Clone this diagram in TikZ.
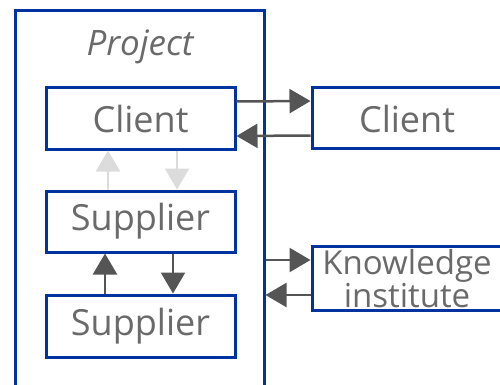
\documentclass[tikz,border=0pt]{standalone}
\usepackage{fontspec}
\setmainfont{Open Sans}
\usetikzlibrary{arrows.meta}
\definecolor{boxblue}{HTML}{0033A0}
\definecolor{txtgray}{HTML}{6A6A6A}
\definecolor{arrdark}{HTML}{555555}
\definecolor{arrlight}{HTML}{DCDCDC}
\begin{document}
\begin{tikzpicture}[x=1pt,y=-1pt,
  box/.style={draw=boxblue,line width=3pt,fill=white,inner sep=0pt,text=txtgray,
    font=\fontsize{36}{36}\selectfont},
  darr/.style={draw=arrdark,line width=2.5pt,-{Triangle[length=21pt,width=24pt,fill=arrdark]}},
  larr/.style={draw=arrlight,line width=2.5pt,-{Triangle[length=21pt,width=24pt,fill=arrlight]}}]
\path[use as bounding box] (0,0) rectangle (500,385);
\clip (0,0) rectangle (500,385);
\node[box,minimum width=249pt,minimum height=410pt] (proj) at (139.5,216) {};
\node[text=txtgray,font=\fontsize{35}{35}\selectfont\itshape] (projlbl) at (140,47) {Project};
\node[box,minimum width=189pt,minimum height=61pt] (cin) at (140.5,118.5) {Client};
\node[box,minimum width=189pt,minimum height=61pt] (sup1) at (140.5,221.5) {Supplier};
\node[box,minimum width=189pt,minimum height=62pt] (sup2) at (140.5,326) {Supplier};
\node[box,minimum width=248pt,minimum height=60pt] (cout) at (436,118) {};
\node[text=txtgray,font=\fontsize{36}{36}\selectfont] (coutlbl) at (407,118.5) {Client};
\node[box,minimum width=248pt,minimum height=64pt] (kn) at (436,278) {};
\node[text=txtgray,font=\fontsize{33}{27}\selectfont,align=center,inner sep=0pt] (knlbl) at (407,279) {Knowledge\\institute};
% client <-> client
\coordinate (c1s) at ([yshift=17pt]cin.east);
\coordinate (c1e) at ([yshift=17pt]cout.west);
\coordinate (c2s) at ([yshift=-17.5pt]cout.west);
\coordinate (c2e) at ([yshift=-17.5pt]cin.east);
\draw[darr] (c1s) -- (c1e);
\draw[darr] (c2s) -- (c2e);
% project <-> knowledge
\coordinate (k1) at ([yshift=18pt]kn.west);
\coordinate (k2) at ([yshift=-17pt]kn.west);
\draw[darr] (proj.east |- k1) -- (k1);
\draw[darr] (k2) -- (proj.east |- k2);
% client <-> supplier (light)
\coordinate (l1) at ([xshift=-32.5pt]sup1.north);
\coordinate (l2) at ([xshift=36.5pt]cin.south);
\draw[larr] (l1) -- (cin.south -| l1);
\draw[larr] (l2) -- (sup1.north -| l2);
% supplier <-> supplier (dark)
\coordinate (d1) at ([xshift=-35.5pt]sup2.north);
\coordinate (d2) at ([xshift=32.5pt]sup1.south);
\draw[darr] (d1) -- (sup1.south -| d1);
\draw[darr] (d2) -- (sup2.north -| d2);
\end{tikzpicture}
\end{document}
